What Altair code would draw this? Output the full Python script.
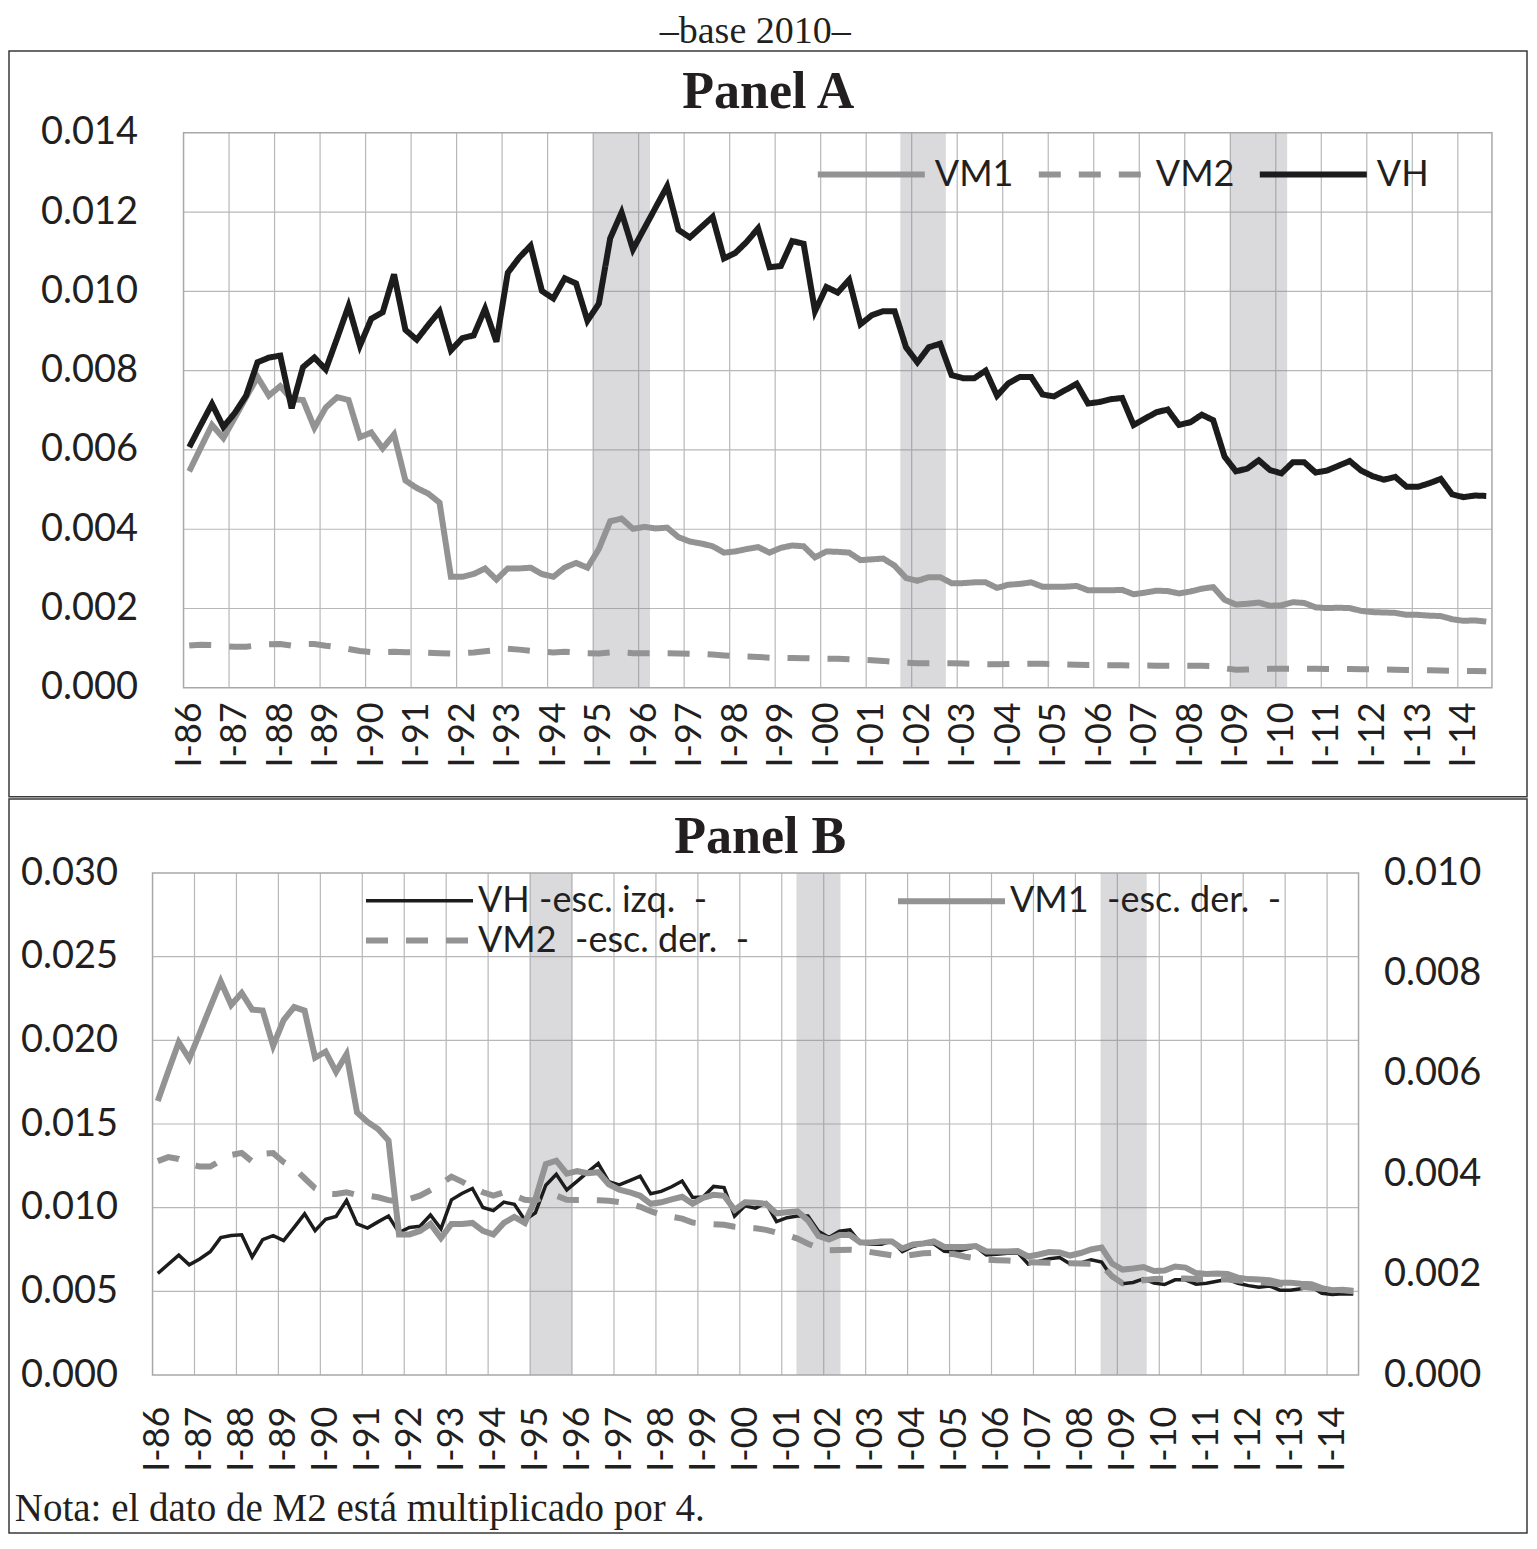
import altair as alt
import pandas as pd

# quarterly data, I-86 ... III-14
vh = [0.00607, 0.00662, 0.00716, 0.00658, 0.00693, 0.00737, 0.00821, 0.00833, 0.00838, 0.00705,
      0.00809, 0.00833, 0.00803, 0.00882, 0.00963, 0.00863, 0.00931, 0.00947, 0.01043, 0.00903,
      0.00878, 0.00915, 0.00950, 0.00851, 0.00882, 0.00889, 0.00956, 0.00873, 0.01047, 0.01085,
      0.01115, 0.01001, 0.00982, 0.01033, 0.01020, 0.00926, 0.00969, 0.01134, 0.01199, 0.01106,
      0.01159, 0.01212, 0.01265, 0.01155, 0.01136, 0.01162, 0.01188, 0.01083, 0.01097, 0.01125,
      0.01159, 0.01061, 0.01064, 0.01127, 0.01120, 0.00950, 0.01011, 0.00997, 0.01029, 0.00917,
      0.00940, 0.00950, 0.00950, 0.00859, 0.00821, 0.00859, 0.00868, 0.00789, 0.00781, 0.00781,
      0.00800, 0.00737, 0.00768, 0.00784, 0.00784, 0.00740, 0.00735, 0.00751, 0.00767, 0.00717,
      0.00721, 0.00728, 0.00731, 0.00663, 0.00679, 0.00695, 0.00702, 0.00663, 0.00670, 0.00689,
      0.00675, 0.00583, 0.00546, 0.00553, 0.00574, 0.00549, 0.00541, 0.00569, 0.00569, 0.00543,
      0.00548, 0.00560, 0.00572, 0.00548, 0.00534, 0.00525, 0.00532, 0.00507, 0.00507, 0.00516,
      0.00527, 0.00488, 0.00481, 0.00485, 0.00484]
vm1 = [0.00546, 0.00605, 0.00663, 0.00630, 0.00681, 0.00733, 0.00784, 0.00737, 0.00761, 0.00728,
       0.00726, 0.00656, 0.00707, 0.00733, 0.00726, 0.00632, 0.00644, 0.00604, 0.00639, 0.00523,
       0.00504, 0.00490, 0.00467, 0.00280, 0.00280, 0.00287, 0.00301, 0.00273, 0.00301, 0.00301,
       0.00303, 0.00287, 0.00280, 0.00303, 0.00315, 0.00303, 0.00350, 0.00420, 0.00427, 0.00401,
       0.00406, 0.00402, 0.00404, 0.00380, 0.00369, 0.00364, 0.00357, 0.00341, 0.00344, 0.00350,
       0.00355, 0.00341, 0.00353, 0.00359, 0.00357, 0.00329, 0.00344, 0.00343, 0.00341, 0.00322,
       0.00324, 0.00326, 0.00308, 0.00277, 0.00270, 0.00279, 0.00279, 0.00264, 0.00264, 0.00266,
       0.00266, 0.00252, 0.00260, 0.00262, 0.00266, 0.00255, 0.00255, 0.00255, 0.00257, 0.00246,
       0.00246, 0.00246, 0.00247, 0.00236, 0.00240, 0.00245, 0.00244, 0.00238, 0.00243, 0.00250,
       0.00254, 0.00222, 0.00210, 0.00212, 0.00215, 0.00207, 0.00208, 0.00216, 0.00214, 0.00203,
       0.00201, 0.00202, 0.00201, 0.00194, 0.00191, 0.00190, 0.00189, 0.00184, 0.00184, 0.00182,
       0.00181, 0.00173, 0.00169, 0.00170, 0.00167]
vm2 = [0.001065, 0.001085, 0.001076, 0.001051, 0.001038, 0.001038, 0.001068, 0.001096, 0.001106, 0.001063,
       0.001101, 0.001105, 0.001060, 0.001030, 0.000980, 0.000930, 0.000903, 0.000901, 0.000910, 0.000896,
       0.000893, 0.000885, 0.000871, 0.000863, 0.000876, 0.000893, 0.000921, 0.000951, 0.000988, 0.000963,
       0.000935, 0.000910, 0.000893, 0.000910, 0.000893, 0.000873, 0.000868, 0.000893, 0.000893, 0.000873,
       0.000871, 0.000871, 0.000870, 0.000868, 0.000861, 0.000851, 0.000838, 0.000816, 0.000798, 0.000788,
       0.000779, 0.000759, 0.000754, 0.000751, 0.000748, 0.000738, 0.000733, 0.000731, 0.000723, 0.000709,
       0.000696, 0.000679, 0.000654, 0.000633, 0.000621, 0.000622, 0.000624, 0.000621, 0.000612, 0.000604,
       0.000596, 0.000592, 0.000599, 0.000606, 0.000608, 0.000606, 0.000601, 0.000589, 0.000581, 0.000575,
       0.000572, 0.000570, 0.000566, 0.000562, 0.000560, 0.000559, 0.000557, 0.000556, 0.000555, 0.000554,
       0.000547, 0.000492, 0.000456, 0.000463, 0.000472, 0.000478, 0.000480, 0.000481, 0.000480, 0.000478,
       0.000477, 0.000476, 0.000475, 0.000470, 0.000466, 0.000462, 0.000458, 0.000452, 0.000446, 0.000440,
       0.000434, 0.000429, 0.000425, 0.000422, 0.000420]

# shaded periods (start/end in quarters from I-86)
bands_a_start = [36, 63, 92]
bands_a_end = [41, 67, 97]
bands_b_start = [36, 61.4, 90.4]
bands_b_end = [40, 65.6, 94.8]

ticks_a = [0.000, 0.002, 0.004, 0.006, 0.008, 0.010, 0.012, 0.014]
ticks_b_left = [0.000, 0.005, 0.010, 0.015, 0.020, 0.025, 0.030]
ticks_b_right = [0.000, 0.002, 0.004, 0.006, 0.008, 0.010]

names_a = ["VM1", "VM2", "VH"]
names_b = ["VH -esc. izq.\u00a0 -", "VM1\u00a0 -esc. der.\u00a0 -", "VM2\u00a0 -esc. der.\u00a0 -"]

SANS = "Lato"
SERIF = "Liberation Serif"
INK = "#231f20"
GRAY = "#939393"
BLACK = "#1c1c1c"
GRID = "#b8b8b8"
EDGE = "#a8a8a8"
DASH = [22, 18]

n = len(vh)
pos = [i + 0.5 for i in range(n)]
year_ticks = list(range(0, n - 2, 4))
LABEL_EXPR = "'I-' + slice('0' + toString((86 + datum.value / 4) % 100), -2)"
one = pd.DataFrame({"k": [0]})

# each panel's view is its outer frame; the plot area sits inside via the scale ranges
W = 1518
H_A, H_B = 745.8, 734
XR_A, YR_A = [174.55, 1482.95], [636.8, 81.8]
XR_B, YR_B = [143.55, 1349.55], [576, 74]


def x_axis(label_offset, pad, height, yr):
    return alt.Axis(values=year_ticks, labelExpr=LABEL_EXPR, labelAngle=270,
                    offset=-(height - yr[0]), labelOffset=label_offset, labelPadding=pad,
                    labelFlush=False, labelOverlap=False, ticks=False, domain=False, grid=False,
                    labelFont=SANS, labelFontSize=36, labelColor=INK, title=None)


def y_axis(ticks, pad, off, orient="left"):
    return alt.Axis(values=ticks, format=".3f", orient=orient, labelPadding=pad, offset=off,
                    ticks=False, domain=False, grid=False, labelFont=SANS, labelFontSize=38,
                    labelColor=INK, title=None)


def xq(field, rng, axis):
    return alt.X(field, type="quantitative", title=None, axis=axis,
                 scale=alt.Scale(domain=[0, n], range=rng, nice=False, zero=False))


def yq(field, domain, rng, axis):
    return alt.Y(field, type="quantitative", title=None, axis=axis,
                 scale=alt.Scale(domain=domain, range=rng, nice=False))


def plot_frame(xr, xax, yr, ydom, yax, ygrid, starts, ends):
    """gridlines, shaded periods and the plot border, all through the scales"""
    top = ydom[1]
    vgrid = pd.DataFrame({"t": year_ticks[1:], "lo": 0.0, "hi": top})
    hgrid = pd.DataFrame({"v": ygrid[1:-1], "lo": 0.0, "hi": float(n)})
    shade = pd.DataFrame({"start": starts, "end": ends, "lo": 0.0, "hi": top})
    edge = pd.DataFrame({"x1": [0.0], "x2": [float(n)], "y1": [0.0], "y2": [top]})
    return [
        alt.Chart(vgrid).mark_rule(color=GRID, strokeWidth=1.2).encode(
            x=xq("t", xr, xax), y=yq("lo", ydom, yr, yax), y2="hi:Q"),
        alt.Chart(hgrid).mark_rule(color=GRID, strokeWidth=1.2).encode(
            y=yq("v", ydom, yr, yax), x=xq("lo", xr, xax), x2="hi:Q"),
        alt.Chart(shade).mark_rect(color="#84848a", opacity=0.3).encode(
            x=xq("start", xr, xax), x2="end:Q", y=yq("lo", ydom, yr, yax), y2="hi:Q"),
        alt.Chart(edge).mark_rect(filled=False, stroke=EDGE, strokeWidth=1.5).encode(
            x=xq("x1", xr, xax), x2="x2:Q", y=yq("y1", ydom, yr, yax), y2="y2:Q"),
    ]


def legend(x, y, cols, colpad, offset):
    return alt.Legend(orient="none", legendX=x, legendY=y, columns=cols, title=None,
                      symbolType="stroke", symbolSize=11449, labelFont=SANS, labelFontSize=36,
                      labelColor=INK, labelOffset=offset, columnPadding=colpad, labelLimit=600,
                      padding=0)


def style(names, leg, dashed=True):
    enc = dict(
        color=alt.Color("serie:N", scale=alt.Scale(domain=names, range=[
            GRAY if "VM" in s else BLACK for s in names]), legend=leg),
        strokeWidth=alt.StrokeWidth("serie:N", scale=alt.Scale(domain=names, range=[
            6 if "VM" in s else 3.5 for s in names]), legend=leg),
    )
    if dashed:
        enc["strokeDash"] = alt.StrokeDash("serie:N", scale=alt.Scale(domain=names, range=[
            DASH if "VM2" in s else [1, 0] for s in names]), legend=leg)
    return enc


def label(text, x, y, size, bold=False, align="center"):
    return alt.Chart(one).mark_text(text=text, font=SERIF, fontSize=size, color=INK,
                                    fontWeight="bold" if bold else "normal", align=align,
                                    baseline="alphabetic").encode(x=alt.value(x), y=alt.value(y))


# ---------- Panel A ----------
df_a = pd.DataFrame({"pos": pos * 3, "serie": ["VM1"] * n + ["VM2"] * n + ["VH"] * n,
                     "valor": vm1 + vm2 + vh})
legend_a = legend(805.8, 66.8, 3, 13, 7)
xax_a = x_axis(5.7, 14, H_A, YR_A)
yax_a = y_axis(ticks_a, 46, -XR_A[0])
lines_a = [
    alt.Chart(df_a).transform_filter(alt.datum.serie == s).mark_line().encode(
        x=xq("pos", XR_A, xax_a), y=yq("valor", [0, 0.014], YR_A, yax_a),
        **style(names_a, legend_a))
    for s in names_a
]
panel_a = alt.layer(
    *plot_frame(XR_A, xax_a, YR_A, [0, 0.014], yax_a, ticks_a, bands_a_start, bands_a_end),
    *lines_a,
    label("\u2013base 2010\u2013", 746.25, -8, 38),
    label("Panel A", 759.25, 56.8, 52, bold=True),
).properties(width=W, height=H_A)

# ---------- Panel B ----------
df_b = pd.DataFrame({"pos": pos * 3, "serie": [names_b[0]] * n + [names_b[1]] * n + [names_b[2]] * n,
                     "valor": vh + vm1 + [v * 4 for v in vm2]})
legend_b1 = legend(354, 45.5, 2, 178, 2)
legend_b2 = alt.Legend(orient="none", legendX=354, legendY=85, title=None, symbolType="stroke",
                       symbolSize=11449, symbolStrokeColor=GRAY, symbolStrokeWidth=6,
                       labelFont=SANS, labelFontSize=36, labelColor=INK, labelOffset=2,
                       labelLimit=600, padding=0)
xax_b = x_axis(5.24, 31, H_B, YR_B)
y_left = yq("valor", [0, 0.03], YR_B, y_axis(ticks_b_left, 35, -XR_B[0]))
y_right = yq("valor", [0, 0.01], YR_B, y_axis(ticks_b_right, 25, -(W - XR_B[1]), "right"))


def base_b(s):
    return alt.Chart(df_b).transform_filter(alt.datum.serie == s).mark_line()


vh_b = base_b(names_b[0]).encode(x=xq("pos", XR_B, xax_b), y=y_left,
                                 **style(names_b[:2], legend_b1, dashed=False))
vm1_b = base_b(names_b[1]).encode(x=xq("pos", XR_B, xax_b), y=y_right,
                                  **style(names_b[:2], legend_b1, dashed=False))
vm2_b = base_b(names_b[2]).mark_line(color=GRAY, strokeWidth=6).encode(
    x=xq("pos", XR_B, xax_b), y=y_right,
    strokeDash=alt.StrokeDash("serie:N", scale=alt.Scale(domain=names_b[2:], range=[DASH]),
                              legend=legend_b2))
panel_b = alt.layer(
    *plot_frame(XR_B, xax_b, YR_B, [0, 0.03], None, ticks_b_left, bands_b_start, bands_b_end),
    vh_b, alt.layer(vm1_b, vm2_b),
    label("Panel B", 751.25, 53.5, 52, bold=True),
    label("Nota: el dato de M2 está multiplicado por 4.", 5.75, 722, 39, align="left"),
).resolve_scale(y="independent").properties(width=W, height=H_B)

chart = alt.vconcat(panel_a, panel_b, spacing=0).resolve_scale(
    color="independent", strokeDash="independent", strokeWidth="independent",
).properties(
    padding={"left": 0, "top": 4, "right": 0, "bottom": 0},
).configure_view(stroke="#3a3a3a", strokeWidth=1.5)

chart.save("out.html", embed_options={"renderer": "svg", "actions": False})
